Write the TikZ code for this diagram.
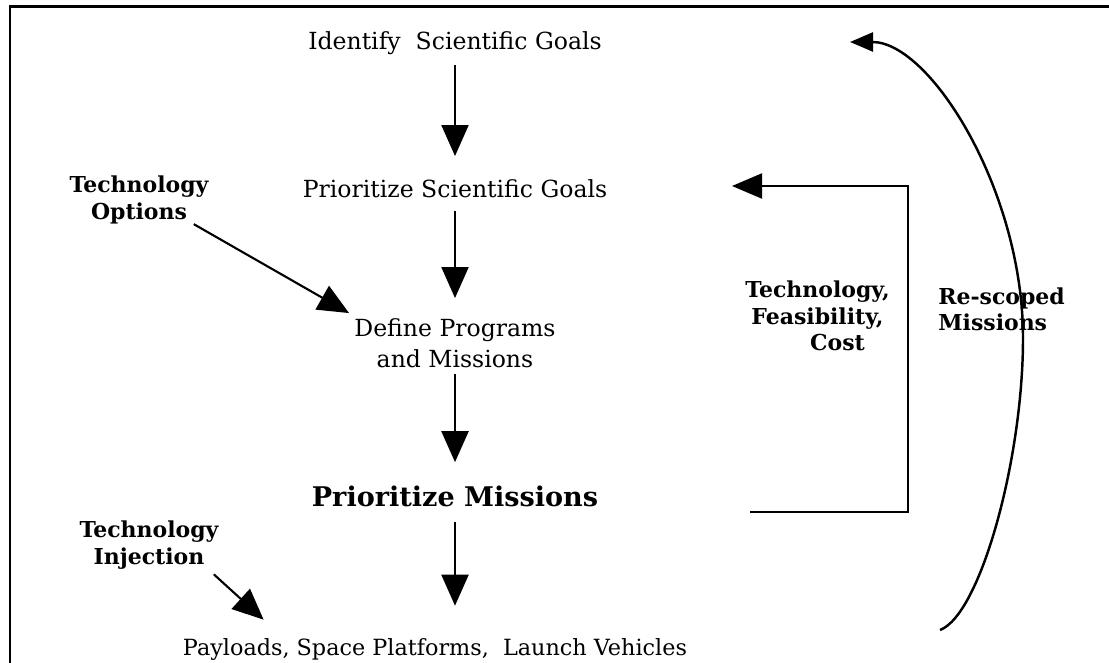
\documentclass[tikz,border=0pt]{standalone}
\usepackage{fontspec}
\setmainfont{DejaVu Serif}
\usetikzlibrary{arrows.meta,positioning}

\begin{document}
\begin{tikzpicture}[
    stage/.style={inner sep=0pt, align=center, font=\fontsize{13.4}{17.6}\selectfont},
    bigstage/.style={inner sep=0pt, font=\fontsize{15.4}{18}\selectfont\bfseries},
    side/.style={inner sep=0pt, align=center, font=\fontsize{12.5}{15}\selectfont\bfseries},
    flow/.style={-{Triangle[length=0.62cm,width=0.54cm]}, line width=1.2pt},
    back/.style={-{Triangle[length=0.6cm,width=0.5cm]}, line width=1.2pt},
    loop/.style={-{Triangle[length=0.46cm,width=0.38cm]}, line width=1.4pt}
  ]
        \useasboundingbox (0,0) rectangle (22.18,-13.26);
        % Frame
        \draw[line width=1.7pt] (22.5,-0.14) -- (0.2,-0.14) -- (0.2,-13.6);
        % Main column
        \node[stage] (goalsid) at (9.1,-0.86) {Identify\ \ Scientific Goals};
        \node[stage] (goalsprio) at (9.1,-3.78) {Prioritize Scientific Goals};
        \node[stage] (defprog) at (9.1,-6.86) {Define Programs\\and Missions};
        \node[bigstage] (missprio) at (9.1,-9.92) {Prioritize Missions};
        \node[stage, font=\fontsize{12.7}{15}\selectfont] (payloads) at (8.7,-12.98) {Payloads, Space Platforms,\ \ Launch Vehicles};
        % Side labels
        \node[side] (techopt) at (2.78,-4.0) {Technology\\Options};
        \node[side] (techinj) at (2.98,-10.9) {Technology\\Injection};
        \node[side] (techfc) at (16.35,-6.32) {Technology,\\Feasibility,\\\hspace*{0.8cm}Cost};
        \node[side, align=left, anchor=west] (rescoped) at (18.76,-6.19) {Re-scoped\\Missions};
        % Arrows down the column
        \draw[flow, shorten <=0.21cm, shorten >=0.47cm] (goalsid) -- (goalsprio);
        \draw[flow, shorten <=0.25cm, shorten >=0.4cm] (goalsprio) -- (defprog);
        \draw[flow, shorten <=0.13cm, shorten >=0.46cm] (defprog) -- (missprio);
        \draw[flow, shorten <=0.31cm, shorten >=0.64cm] (missprio) -- (missprio |- payloads.north);
        % Technology inputs
        \draw[flow] ([xshift=-0.3cm]techopt.south east) -- ([xshift=-0.1cm,yshift=0.1cm]defprog.north west);
        \draw[flow] ([xshift=-0.1cm,yshift=-0.1cm]techinj.south east) -- ([xshift=1.62cm,yshift=0.36cm]payloads.north west);
        % Feedback
        \coordinate (fbin) at (15.0,-10.24);
        \coordinate (fbout) at (14.64,-3.72);
        \draw[back] (fbin) -- ++(3.16,0) |- (fbout);
        \coordinate (rsbot) at (18.8,-12.6);
        \coordinate (rstop) at (17.0,-0.84);
        \draw[loop] (rsbot) .. controls (19.6,-12.3) and (20.46,-9.2) .. (20.46,-6.76)
            .. controls (20.46,-3.8) and (18.6,-0.84) .. (rstop);
\end{tikzpicture}
\end{document}
